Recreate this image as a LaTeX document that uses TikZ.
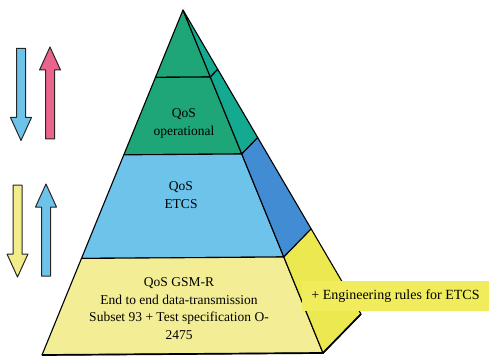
\documentclass[tikz,border=0pt]{standalone}
\usepackage{fontspec}
\setmainfont{Liberation Serif}
\usetikzlibrary{calc}

\definecolor{frontgreen}{HTML}{1EA578}
\definecolor{sidegreen}{HTML}{14AA91}
\definecolor{frontblue}{HTML}{6EC3EB}
\definecolor{sideblue}{HTML}{418CD2}
\definecolor{frontyellow}{HTML}{F3EE96}
\definecolor{sideyellow}{HTML}{ECE850}
\definecolor{labelyellow}{HTML}{F0EC5C}
\definecolor{arrowpink}{HTML}{EB648C}
\definecolor{arrowyellow}{HTML}{F2EC8A}

\tikzset{
  face/.style={draw=black, line width=1.1pt, line join=round},
  layertext/.style={align=center, inner sep=0pt, font=\fontsize{13.5}{17.5}\selectfont},
  labeltext/.style={font=\fontsize{14}{17}\selectfont, inner sep=0pt},
  pics/flowarrow/.style={code={
    \draw[draw=black!85, line width=1pt, line join=round, fill=#1]
      (-4.5,0) -- (4.5,0) -- (4.5,69) -- (10.5,69) -- (0,92)
      -- (-10.5,69) -- (-4.5,69) -- cycle;
  }}
}

\begin{document}
\begin{tikzpicture}[x=1pt, y=-1pt]
  \useasboundingbox (0,0) rectangle (489,358);

  % pyramid corners
  \coordinate (A)  at (183,10);
  \coordinate (BL) at (42,355);
  \coordinate (BR) at (323,353);
  \coordinate (R)  at (361,314);

  % layer boundaries: left edge, front-right edge, back-right edge
  \foreach \t [count=\i] in {0.1953,0.4198,0.7201} {
    \coordinate (L\i) at ($(A)!\t!(BL)$);
    \coordinate (F\i) at ($(A)!\t!(BR)$);
    \coordinate (S\i) at ($(A)!\t!(R)$);
  }

  % front faces
  \filldraw[face, fill=frontgreen]  (A) -- (F1) -- (L1) -- cycle;
  \filldraw[face, fill=frontgreen]  (L1) -- (F1) -- (F2) -- (L2) -- cycle;
  \filldraw[face, fill=frontblue]   (L2) -- (F2) -- (F3) -- (L3) -- cycle;
  \filldraw[face, fill=frontyellow] (L3) -- (F3) -- (BR) -- (BL) -- cycle;

  % side faces
  \filldraw[face, fill=sidegreen]  (A) -- (S1) -- (F1) -- cycle;
  \filldraw[face, fill=sidegreen]  (F1) -- (S1) -- (S2) -- (F2) -- cycle;
  \filldraw[face, fill=sideblue]   (F2) -- (S2) -- (S3) -- (F3) -- cycle;
  \filldraw[face, fill=sideyellow] (F3) -- (S3) -- (R) -- (BR) -- cycle;

  % heavier base edges
  \draw[line width=1.7pt, line join=round] (BL) -- (BR) -- (R);

  % layer texts
  \node[layertext] (qosop)   at (184,123.5) {QoS\\operational};
  \node[layertext] (qosetcs) at (181,195)   {QoS\\ETCS};
  \node[layertext] (qosgsm)  at (179,308.5)
    {QoS GSM-R\\End to end data-transmission\\Subset 93 + Test specification O-\\2475};

  % side label
  \node[fill=labelyellow, minimum width=187pt, minimum height=30pt, inner sep=0pt]
    (eng) at (395.5,296) {};
  \node[labeltext] (engtext) at (eng.center) {+ Engineering rules for ETCS};

  % direction arrows
  \pic at (21,48.5)  {flowarrow=frontblue};
  \pic[rotate=180] at (50,139) {flowarrow=arrowpink};
  \pic at (17.5,185) {flowarrow=arrowyellow};
  \pic[rotate=180] at (46,276) {flowarrow=frontblue};
\end{tikzpicture}
\end{document}
